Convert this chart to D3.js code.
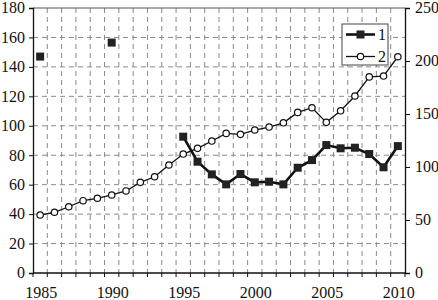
<!DOCTYPE html>
<html>
<head>
<meta charset="utf-8">
<script src="https://cdn.jsdelivr.net/npm/d3@7"></script>
<style>
  body { margin: 0; background: #fff; }
</style>
</head>
<body>
<div id="graph"></div>
<script>
var years = d3.range(1985, 2011);
var yearLabels = [1985, 1990, 1995, 2000, 2005, 2010];
var leftTicks = [0, 20, 40, 60, 80, 100, 120, 140, 160, 180];
var rightTicks = [0, 50, 100, 150, 200, 250];
var legendNames = ["1", "2"];

// series 1 (left axis), gaps where no value
var series1 = [147, null, null, null, null, 156.5, null, null, null, null,
  92.6, 75.6, 67, 60.2, 67.2, 61.6, 62, 60.2, 71.5, 76.7,
  86.9, 84.7, 85.1, 80.8, 71.8, 86.2];
// series 2 (right axis)
var series2 = [54.7, 57.3, 62.5, 68.2, 70.5, 73.6, 77.4, 85.5, 90.8, 101.9,
  112.2, 117.6, 124.5, 131.7, 130.8, 134.9, 137.7, 141.7, 151.5, 155.9,
  142.1, 153, 167, 185, 185.8, 204];

var width = 438, height = 300;
// note: "top" is taken by window.top, so plot edges get a prefix
var pLeft = 33, pRight = 405, pTop = 8, pBottom = 273;
var serif = "'Liberation Serif', 'DejaVu Serif', serif";

var svg = d3.select("#graph").append("svg")
  .attr("width", width)
  .attr("height", height)
  .style("font-family", serif)
  .style("font-size", "16px");

var x = d3.scaleBand().domain(years).range([pLeft, pRight]).padding(0);
var yL = d3.scaleLinear().domain([0, 180]).range([pBottom, pTop]);
var yR = d3.scaleLinear().domain([0, 250]).range([pBottom, pTop]);
var cx = function(yr) { return x(yr) + x.bandwidth() / 2; };

// grid
var grid = svg.append("g").attr("stroke", "#8a8a8a").attr("stroke-width", 1)
  .attr("stroke-dasharray", "5,4");
grid.selectAll(".vg").data(years.slice(1))
  .enter().append("line")
  .attr("x1", function(d) { return x(d); })
  .attr("x2", function(d) { return x(d); })
  .attr("y1", pTop).attr("y2", pBottom);
grid.selectAll(".hg").data(leftTicks.slice(1, -1))
  .enter().append("line")
  .attr("x1", pLeft).attr("x2", pRight)
  .attr("y1", function(d) { return yL(d); })
  .attr("y2", function(d) { return yL(d); });

// frame top
svg.append("line").attr("x1", pLeft).attr("x2", pRight).attr("y1", pTop).attr("y2", pTop)
  .attr("stroke", "#555").attr("stroke-width", 1);

// left axis
var axL = svg.append("g").attr("transform", "translate(" + pLeft + ",0)")
  .call(d3.axisLeft(yL).tickValues(leftTicks).tickSize(4).tickPadding(4));
// right axis
var axR = svg.append("g").attr("transform", "translate(" + pRight + ",0)")
  .call(d3.axisRight(yR).tickValues(rightTicks).tickSize(5).tickPadding(5));
// bottom axis: ticks on category boundaries, labels every 5 years
var boundaries = years.map(function(d) { return x(d); }).concat([pRight]);
var axB = svg.append("g");
axB.append("line").attr("x1", pLeft).attr("x2", pRight).attr("y1", pBottom).attr("y2", pBottom)
  .attr("stroke", "#111").attr("stroke-width", 1.3);
axB.selectAll(".bt").data(boundaries).enter().append("line")
  .attr("x1", function(d) { return d; }).attr("x2", function(d) { return d; })
  .attr("y1", pBottom).attr("y2", pBottom + 4)
  .attr("stroke", "#111");
axB.selectAll(".bl").data(yearLabels).enter().append("text")
  .attr("x", function(d) { return cx(d) + 1; })
  .attr("y", pBottom + 25)
  .attr("text-anchor", "middle")
  .attr("fill", "#111")
  .text(function(d) { return d; });

[axL, axR].forEach(function(ax) {
  ax.attr("font-family", null).attr("font-size", null);
  ax.select(".domain").attr("stroke", "#111").attr("stroke-width", 1.3);
  ax.selectAll(".tick line").attr("stroke", "#111");
  ax.selectAll("text").attr("fill", "#111").attr("dy", "0.3em");
});

// series 2
var pts2 = years.map(function(d, i) { return { yr: d, v: series2[i] }; });
svg.append("path").datum(pts2)
  .attr("fill", "none").attr("stroke", "#111").attr("stroke-width", 1.3)
  .attr("d", d3.line().x(function(d) { return cx(d.yr); }).y(function(d) { return yR(d.v); }));
svg.selectAll(".c2").data(pts2).enter().append("circle")
  .attr("cx", function(d) { return cx(d.yr); })
  .attr("cy", function(d) { return yR(d.v); })
  .attr("r", 3.2)
  .attr("fill", "#fff").attr("stroke", "#111").attr("stroke-width", 1.2);

// series 1
var pts1 = years.map(function(d, i) { return { yr: d, v: series1[i] }; });
svg.append("path").datum(pts1)
  .attr("fill", "none").attr("stroke", "#111").attr("stroke-width", 2.6)
  .attr("d", d3.line().defined(function(d) { return d.v != null; })
    .x(function(d) { return cx(d.yr); }).y(function(d) { return yL(d.v); }));
svg.selectAll(".s1").data(pts1.filter(function(d) { return d.v != null; }))
  .enter().append("rect")
  .attr("x", function(d) { return cx(d.yr) - 4; })
  .attr("y", function(d) { return yL(d.v) - 4; })
  .attr("width", 8).attr("height", 8)
  .attr("fill", "#222");

// legend
var lg = svg.append("g").attr("transform", "translate(342,24)");
lg.append("rect").attr("width", 46).attr("height", 41)
  .attr("fill", "#fff").attr("stroke", "#444").attr("stroke-width", 1);
lg.append("line").attr("x1", 4).attr("x2", 33).attr("y1", 10.5).attr("y2", 10.5)
  .attr("stroke", "#111").attr("stroke-width", 2.6);
lg.append("rect").attr("x", 14.5).attr("y", 6.5).attr("width", 8).attr("height", 8).attr("fill", "#222");
lg.append("line").attr("x1", 4).attr("x2", 33).attr("y1", 32.5).attr("y2", 32.5)
  .attr("stroke", "#111").attr("stroke-width", 1.3);
lg.append("circle").attr("cx", 18.5).attr("cy", 32.5).attr("r", 3.2)
  .attr("fill", "#fff").attr("stroke", "#111").attr("stroke-width", 1.2);
lg.selectAll(".lt").data(legendNames).enter().append("text")
  .attr("x", 36).attr("y", function(d, i) { return 10.5 + i * 22; })
  .attr("dy", "0.35em")
  .attr("fill", "#111")
  .text(function(d) { return d; });
</script>
</body>
</html>
